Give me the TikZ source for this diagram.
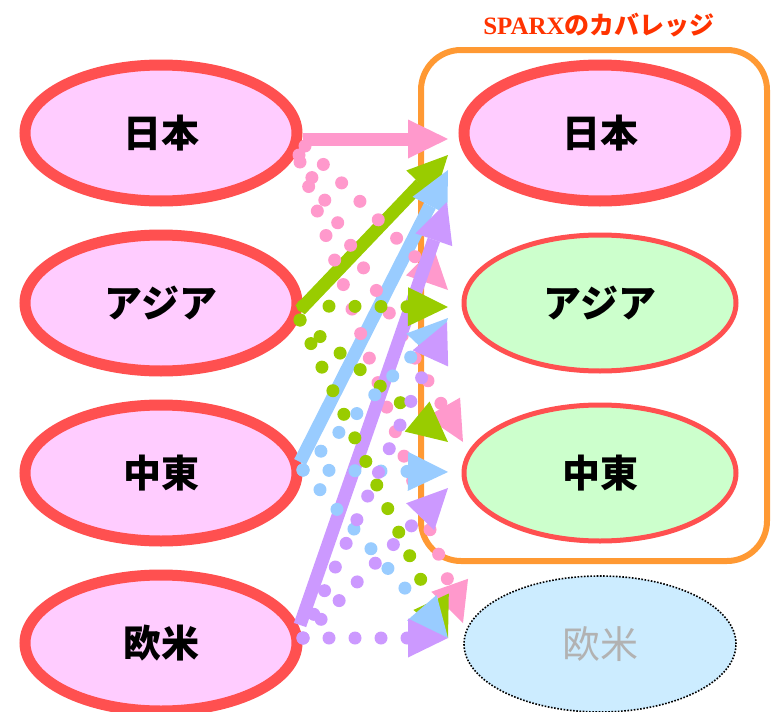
\documentclass[tikz,border=0pt]{standalone}
\usepackage{fontspec}
\newfontfamily\jp{Noto Sans CJK JP}
\newfontfamily\ttlserif{Liberation Serif}
\usetikzlibrary{shapes.geometric,arrows.meta}
\definecolor{pinkA}{HTML}{FF99CC}
\definecolor{greenA}{HTML}{99CC00}
\definecolor{blueA}{HTML}{99CCFF}
\definecolor{purpleA}{HTML}{CC99FF}
\definecolor{redline}{HTML}{FF5050}
\definecolor{pinkfill}{HTML}{FFCCFF}
\definecolor{greenfill}{HTML}{CCFFCC}
\definecolor{bluefill}{HTML}{CCECFF}
\definecolor{orangeA}{HTML}{FF9933}
\definecolor{titlered}{HTML}{FF3300}
\definecolor{grayt}{HTML}{B2B2B2}
\begin{document}
\begin{tikzpicture}[x=1pt,y=-1pt,
  region/.style={ellipse, minimum width=272pt, minimum height=136pt, inner sep=0pt,
    font=\jp\bfseries\fontsize{38pt}{40pt}\selectfont},
  strong/.style={region, draw=redline, line width=11pt, fill=pinkfill},
  weak/.style={region, draw=redline, line width=5pt, fill=greenfill},
  absent/.style={region, draw=black, line width=1.6pt, dash pattern=on 1.6pt off 1.6pt,
    fill=bluefill, text=grayt, font=\jp\fontsize{38pt}{40pt}\selectfont},
  cover/.style={draw=orangeA, line width=6pt, rounded corners=40pt},
  tiphead/.style={-{Triangle[length=40pt,width=39pt,line width=0pt]}},
  solidarrow/.style={tiphead, line width=13pt},
  dotarrow/.style={tiphead, line width=13pt, line cap=round, dash pattern=on 0pt off 26pt}
]
\useasboundingbox (0,0) rectangle (772,712);

% left sources
\node[strong] (L1) at (161,133) {日本};
\node[strong] (L2) at (161,303) {アジア};
\node[strong] (L3) at (161,473) {中東};
\node[strong] (L4) at (161,643) {欧米};

% right targets
\node[strong] (R1) at (600,133) {日本};
\node[weak]   (R2) at (600,303) {アジア};
\node[weak]   (R3) at (600,473) {中東};
\node[absent] (R4) at (600,644) {\raisebox{-5pt}{欧米}};

% coverage box and title
\node[cover, minimum width=346pt, minimum height=511pt, inner sep=0pt] (box) at (594,305.5) {};
\node[text=titlered, font=\fontsize{25pt}{27pt}\selectfont, inner sep=0pt] (title) at (599,25)
  {{\ttlserif\bfseries SPARX}{\jp\bfseries のカバレッジ}};

% coordinates of arrow ends
\coordinate (pS) at (303,139);  \coordinate (pT) at (448,139);
\coordinate (gS) at (300,310);  \coordinate (gT) at (448,155);
\coordinate (bS) at (300,462);  \coordinate (bT) at (448,170);
\coordinate (uS) at (300,625);  \coordinate (uT) at (447,202);

\coordinate (pA) at (305,146);  \coordinate (pB) at (299,155);  \coordinate (pC) at (300,162);
\coordinate (g0) at (303,306);  \coordinate (g1) at (300,320);
\coordinate (b0) at (303,470);
\coordinate (u0) at (303,638);

\coordinate (t2p) at (448,290); \coordinate (t2g) at (448,307);
\coordinate (t2b) at (448,318); \coordinate (t2u) at (447,322);
\coordinate (t3p) at (463,442); \coordinate (t3g) at (448,442);
\coordinate (t3b) at (448,472); \coordinate (t3u) at (448,488);
\coordinate (t4p) at (463,623); \coordinate (t4g) at (448,638);
\coordinate (t4b) at (448,638); \coordinate (t4u) at (448,638);

% solid arrows
\draw[solidarrow, pinkA]  (pS) -- (pT);
\draw[solidarrow, greenA] (gS) -- (gT);
\draw[solidarrow, blueA]  (bS) -- (bT);

% pink dotted
\draw[dotarrow, pinkA] (pA) -- (t2p);
\draw[dotarrow, pinkA] (pB) -- (t3p);
\draw[dotarrow, pinkA] (pC) -- (t4p);

\draw[solidarrow, purpleA] (uS) -- (uT);

% green dotted
\draw[dotarrow, greenA] (g0) -- (t2g);
\draw[dotarrow, greenA] (g1) -- (t3g);
\draw[dotarrow, greenA] (g1) -- (t4g);

% blue dotted
\draw[dotarrow, blueA] (b0) -- (t2b);
\draw[dotarrow, blueA] (b0) -- (t3b);
\draw[dotarrow, blueA] (b0) -- (t4b);

% purple dotted
\draw[dotarrow, purpleA] (u0) -- (t2u);
\draw[dotarrow, purpleA] (u0) -- (t3u);
\draw[dotarrow, purpleA] (u0) -- (t4u);
\end{tikzpicture}
\end{document}
